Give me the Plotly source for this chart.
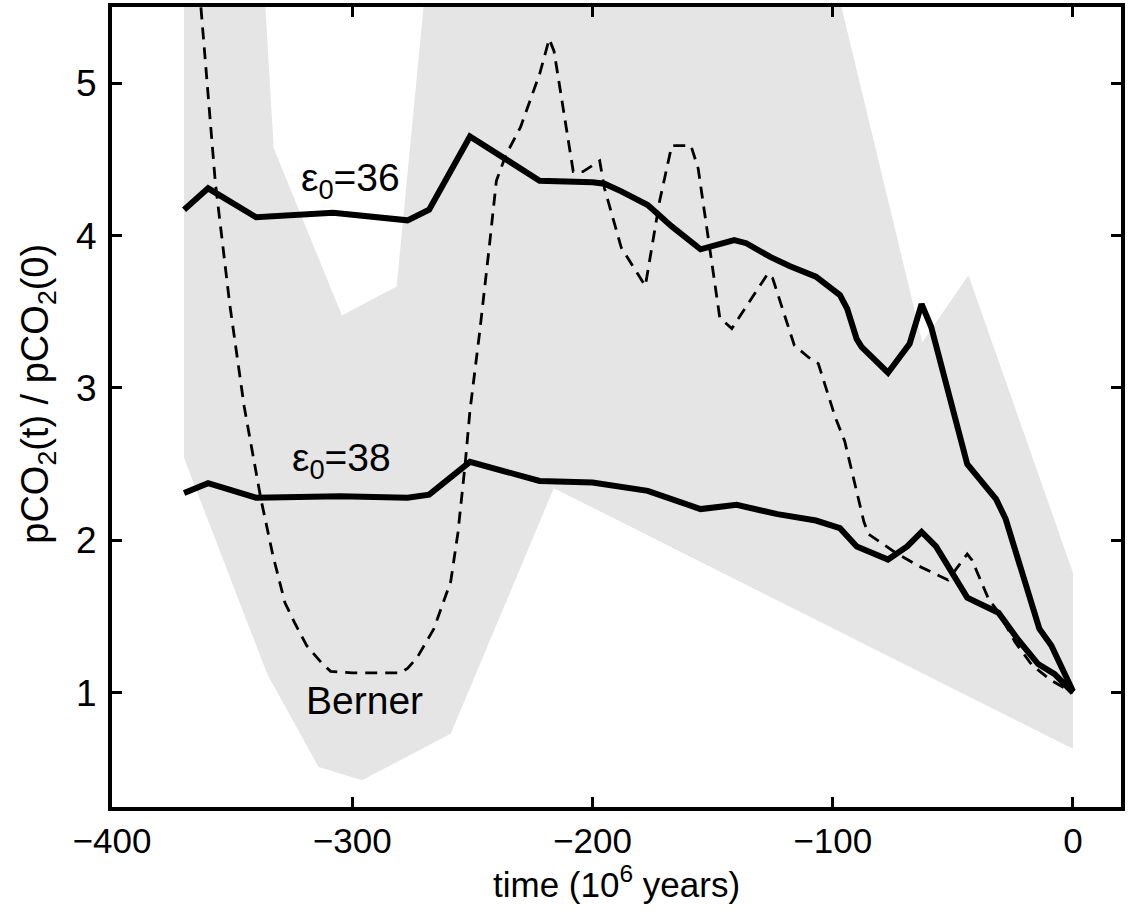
import plotly.graph_objects as go

# Shaded band (upper boundary left->right, then lower boundary right->left)
band_t = [-370, -338, -332.7, -304.3, -281.5, -267.3, -104, -62.7, -43.5, 0,
          0, -216.1, -259, -296, -314, -335.4, -370]
band_r = [6.0, 6.0, 4.575, 3.475, 3.665, 6.0, 6.0, 3.30, 3.74, 1.787,
          0.632, 2.342, 0.73, 0.425, 0.512, 1.122, 2.54]

# Berner curve (dashed)
tB = [-370, -363, -357, -351, -345, -338, -333, -328, -324, -319, -313, -309, -300, -290,
      -280, -277, -273, -266, -259, -256, -253, -251, -247, -243, -240, -236, -230, -222,
      -218, -216, -208, -204, -197, -195, -188, -182, -178, -172, -167, -159, -156, -147,
      -142, -127, -125, -116, -110, -106, -99, -95, -87, -85, -74, -64, -52, -44, -42,
      -35, -31, -24, -17, -9, 0]
rB = [7.2, 5.5, 4.35, 3.55, 2.88, 2.27, 1.9, 1.59, 1.46, 1.31, 1.2, 1.14, 1.13, 1.13,
      1.13, 1.16, 1.23, 1.42, 1.73, 2.05, 2.5, 2.85, 3.36, 3.92, 4.36, 4.53, 4.71, 5.06,
      5.29, 5.21, 4.42, 4.42, 4.49, 4.31, 3.92, 3.77, 3.67, 4.23, 4.59, 4.59, 4.44, 3.46,
      3.39, 3.75, 3.72, 3.28, 3.20, 3.16, 2.81, 2.65, 2.12, 2.04, 1.92, 1.83, 1.74, 1.91, 1.87,
      1.61, 1.53, 1.33, 1.18, 1.08, 1.0]

# epsilon_0 = 36
t36 = [-370, -360, -340, -308, -277, -268, -251, -222, -200, -195, -188, -177, -167, -155,
       -141, -136, -126, -118, -107, -97, -94, -90, -88, -77, -68, -63, -59, -44, -32, -28,
       -14, -9, 0]
r36 = [4.17, 4.31, 4.12, 4.15, 4.10, 4.17, 4.65, 4.36, 4.35, 4.34, 4.29, 4.20, 4.06, 3.91,
       3.97, 3.95, 3.86, 3.80, 3.73, 3.61, 3.52, 3.32, 3.27, 3.10, 3.29, 3.55, 3.40, 2.50, 2.27,
       2.14, 1.42, 1.31, 1.01]

# epsilon_0 = 38
t38 = [-370, -360, -340, -305, -277, -268, -251, -222, -200, -177, -155, -140, -123, -107,
       -97, -90, -77, -69, -63, -57, -44, -31, -23, -14.5, -7.6, 0]
r38 = [2.31, 2.375, 2.28, 2.29, 2.28, 2.30, 2.515, 2.39, 2.38, 2.325, 2.205, 2.233, 2.172,
       2.13, 2.08, 1.96, 1.874, 1.96, 2.055, 1.96, 1.624, 1.525, 1.351, 1.188, 1.122, 1.0]

x_ticks = [-400, -300, -200, -100, 0]
y_ticks = [1, 2, 3, 4, 5]

FONT = "Liberation Sans, Arial, Helvetica, sans-serif"

fig = go.Figure()
fig.add_trace(go.Scatter(x=band_t, y=band_r, fill="toself", fillcolor="#e5e5e5",
                         line=dict(width=0, color="#e5e5e5"), mode="lines",
                         hoverinfo="skip", showlegend=False))
fig.add_trace(go.Scatter(x=tB, y=rB, mode="lines",
                         line=dict(color="black", width=2.8, dash="12px,8px"),
                         showlegend=False))
fig.add_trace(go.Scatter(x=t36, y=r36, mode="lines",
                         line=dict(color="black", width=6), showlegend=False))
fig.add_trace(go.Scatter(x=t38, y=r38, mode="lines",
                         line=dict(color="black", width=6), showlegend=False))

ann_font = dict(family=FONT, size=39, color="black")
fig.add_annotation(x=-322, y=4.36, xref="x", yref="y", text="ε<sub>0</sub>=36",
                   showarrow=False, xanchor="left", yanchor="middle", font=ann_font)
fig.add_annotation(x=-326, y=2.525, xref="x", yref="y", text="ε<sub>0</sub>=38",
                   showarrow=False, xanchor="left", yanchor="middle", font=ann_font)
fig.add_annotation(x=-295, y=0.95, xref="x", yref="y", text="Berner",
                   showarrow=False, xanchor="center", yanchor="middle", font=ann_font)

fig.add_annotation(x=0.5, y=-0.094, xref="paper", yref="paper",
                   text="time (10<sup>6</sup> years)", showarrow=False,
                   xanchor="center", yanchor="middle", font=dict(family=FONT, size=35, color="black"))
fig.add_annotation(x=-0.073, y=0.517, xref="paper", yref="paper",
                   text="pCO<sub>2</sub>(t) / pCO<sub>2</sub>(0)", showarrow=False,
                   textangle=-90, xanchor="center", yanchor="middle",
                   font=dict(family=FONT, size=38, color="black"))

axis_common = dict(showline=True, linecolor="black", linewidth=4, mirror="allticks",
                   ticks="inside", ticklen=10, tickwidth=3, tickcolor="black",
                   showgrid=False, zeroline=False)

fig.update_xaxes(range=[-400, 20], tickvals=x_ticks, ticklabelstandoff=0,
                 tickfont=dict(family=FONT, size=35, color="black"), **axis_common)
fig.update_yaxes(range=[0.25, 5.5], tickvals=y_ticks, ticklabelstandoff=4,
                 tickfont=dict(family=FONT, size=37, color="black"), **axis_common)

fig.update_layout(width=1128, height=918, margin=dict(l=112, r=3, t=5, b=111),
                  paper_bgcolor="white", plot_bgcolor="white", showlegend=False)

fig.write_html("out.html")
